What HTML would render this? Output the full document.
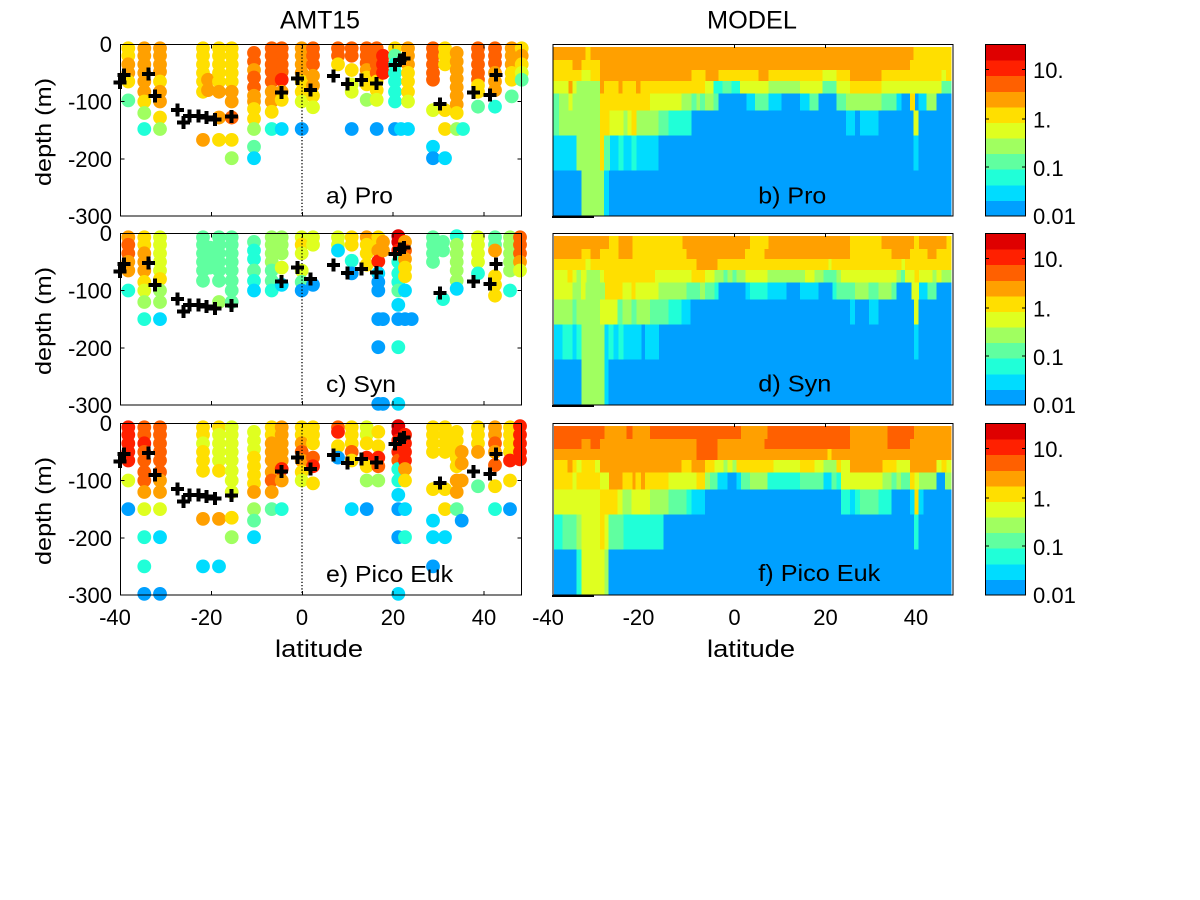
<!DOCTYPE html>
<html><head><meta charset="utf-8">
<style>
html,body{margin:0;padding:0;background:#fff;}
svg{display:block;}
text{font-family:"Liberation Sans",Arial,sans-serif;fill:#000;}
</style></head>
<body>
<svg id="s" width="1200" height="900" viewBox="0 0 1200 900" xmlns="http://www.w3.org/2000/svg">
<rect width="1200" height="900" fill="#fff"/>
<g id="model" shape-rendering="crispEdges"></g>
<g id="cbar" shape-rendering="crispEdges"></g>
<g id="dots"></g>
<g id="dotline"></g>
<g id="crosses" shape-rendering="crispEdges"></g>
<g id="axes" fill="none" stroke="#000" stroke-width="1" shape-rendering="crispEdges"></g>

<!-- Titles -->
<text x="280" y="28.3" font-size="25" textLength="80" lengthAdjust="spacingAndGlyphs">AMT15</text>
<text x="707" y="28.3" font-size="25" textLength="90" lengthAdjust="spacingAndGlyphs">MODEL</text>

<!-- y labels -->
<text transform="translate(51,132) rotate(-90)" font-size="22" text-anchor="middle" textLength="108" lengthAdjust="spacingAndGlyphs">depth (m)</text>
<text transform="translate(51,321) rotate(-90)" font-size="22" text-anchor="middle" textLength="108" lengthAdjust="spacingAndGlyphs">depth (m)</text>
<text transform="translate(51,511) rotate(-90)" font-size="22" text-anchor="middle" textLength="108" lengthAdjust="spacingAndGlyphs">depth (m)</text>

<!-- y tick labels -->
<g font-size="22" text-anchor="end">
<text x="112" y="52">0</text><text x="112" y="109.5">-100</text><text x="112" y="166.8">-200</text><text x="112" y="224">-300</text>
<text x="112" y="241">0</text><text x="112" y="298.5">-100</text><text x="112" y="355.8">-200</text><text x="112" y="413">-300</text>
<text x="112" y="431">0</text><text x="112" y="488.5">-100</text><text x="112" y="545.8">-200</text><text x="112" y="603">-300</text>
</g>

<!-- x tick labels -->
<g font-size="22" text-anchor="middle">
<text x="115" y="625">-40</text><text x="206.5" y="625">-20</text><text x="302" y="625">0</text><text x="393" y="625">20</text><text x="484" y="625">40</text>
<text x="548" y="625">-40</text><text x="638.5" y="625">-20</text><text x="734.5" y="625">0</text><text x="825.5" y="625">20</text><text x="916" y="625">40</text>
</g>
<text x="275" y="657" font-size="24" textLength="88" lengthAdjust="spacingAndGlyphs">latitude</text>
<text x="707" y="657" font-size="24" textLength="88" lengthAdjust="spacingAndGlyphs">latitude</text>

<!-- panel labels -->
<g font-size="23">
<text x="326" y="203.3" textLength="67" lengthAdjust="spacingAndGlyphs">a) Pro</text>
<text x="326" y="392" textLength="70" lengthAdjust="spacingAndGlyphs">c) Syn</text>
<text x="326" y="582" textLength="127" lengthAdjust="spacingAndGlyphs">e) Pico Euk</text>
<text x="758.3" y="203.3" textLength="68" lengthAdjust="spacingAndGlyphs">b) Pro</text>
<text x="758.3" y="391.7" textLength="73" lengthAdjust="spacingAndGlyphs">d) Syn</text>
<text x="758.3" y="581" textLength="122" lengthAdjust="spacingAndGlyphs">f) Pico Euk</text>
</g>

<!-- colorbar labels -->
<g font-size="22">
<text x="1033" y="78">10.</text><text x="1033" y="127.5">1.</text><text x="1033" y="176">0.1</text><text x="1033" y="224">0.01</text>
<text x="1033" y="267">10.</text><text x="1033" y="316.5">1.</text><text x="1033" y="365">0.1</text><text x="1033" y="413">0.01</text>
<text x="1033" y="457">10.</text><text x="1033" y="506.5">1.</text><text x="1033" y="555">0.1</text><text x="1033" y="603">0.01</text>
</g>
</svg>
<script>
(function(){
var P=['#00A0FF','#00DCFF','#20FFD8','#60FFA0','#A0FF60','#DFFF20','#FFDF00','#FFA000','#FF6000','#FF2000','#DF0000'];
var NS='http://www.w3.org/2000/svg';
function el(p,t,a){var e=document.createElementNS(NS,t);for(var k in a)e.setAttribute(k,a[k]);p.appendChild(e);return e;}
var gM=document.getElementById('model'),gC=document.getElementById('cbar'),gD=document.getElementById('dots'),
gL=document.getElementById('dotline'),gX=document.getElementById('crosses'),gA=document.getElementById('axes');

/* ---------- MODEL panels ---------- */
var R=[2.5,15.5,25.7,36.8,49.4,66.3,91.3,126.4,171.7];
var models=[
{top:44.3,off:540,start:40,rows:[
[[137,7],[152,6],[1120,7],[1232,6]],
[[97,6],[125,7],[180,6],[192,7],[1110,7],[1232,6]],
[[125,6],[152,5],[180,6],[192,7],[455,7],[497,6],[535,7],[655,6],[685,7],[848,6],[890,5],[930,6],[1025,7],[1205,6],[1218,5],[1232,6]],
[[85,5],[97,7],[110,5],[180,4],[192,7],[235,6],[248,7],[288,6],[302,7],[495,6],[520,5],[548,2],[575,3],[600,2],[685,5],[780,4],[848,5],[890,3],[930,5],[1025,6],[1205,5],[1232,3]],
[[57,3],[85,4],[97,5],[180,4],[192,6],[330,6],[425,5],[455,4],[470,3],[480,4],[495,3],[520,4],[535,3],[620,0],[645,1],[685,3],[725,1],[780,0],[808,1],[836,3],[890,0],[918,3],[1025,4],[1070,3],[1085,1],[1110,0],[1125,6],[1135,0],[1160,1],[1190,4],[1232,0]],
[[57,3],[180,4],[208,6],[250,5],[262,4],[275,5],[290,6],[355,4],[385,3],[455,2],[918,0],[945,1],[960,0],[1015,1],[1120,0],[1135,5],[1232,0]],
[[110,1],[180,4],[192,6],[210,3],[235,1],[250,2],[275,1],[290,2],[355,1],[1120,0],[1135,1],[1232,0]],
[[125,0],[192,4],[207,1],[1232,0]]
]},
{top:233.3,off:545,start:27,rows:[
[[192,7],[220,6],[262,7],[412,6],[615,7],[670,6],[915,7],[1010,6],[1107,7],[1122,6],[1205,7],[1217,6]],
[[110,7],[137,6],[165,7],[220,6],[262,7],[425,6],[600,7],[658,6],[915,7],[1040,6],[1095,7],[1148,6],[1175,7],[1217,6]],
[[122,6],[137,5],[455,6],[518,7],[850,6],[860,5],[1070,6],[1080,5],[1217,6]],
[[68,5],[82,6],[95,5],[108,4],[125,5],[165,4],[177,5],[330,6],[440,5],[480,6],[508,5],[535,4],[548,3],[562,4],[575,3],[602,4],[668,5],[780,4],[808,5],[835,4],[875,3],[888,4],[1055,5],[1068,4],[1080,3],[1108,5],[1122,6],[1162,5],[1175,4],[1190,5],[1217,4]],
[[82,5],[108,4],[122,5],[180,4],[232,6],[260,5],[272,6],[340,5],[425,4],[465,3],[480,4],[508,3],[520,2],[602,0],[615,1],[668,2],[725,1],[765,0],[820,1],[862,0],[875,2],[930,3],[970,4],[1000,3],[1040,4],[1055,3],[1100,0],[1122,5],[1148,1],[1175,3],[1217,0]],
[[82,4],[95,3],[165,4],[218,5],[232,3],[260,4],[275,3],[315,4],[370,3],[410,2],[437,1],[915,0],[930,1],[972,0],[1000,1],[1107,0],[1120,5],[1217,0]],
[[52,1],[82,2],[95,1],[110,2],[178,4],[190,1],[205,2],[220,1],[235,2],[290,1],[300,0],[342,1],[1107,0],[1120,1],[1217,0]],
[[110,0],[178,4],[190,1],[1217,0]]
]},
{top:423.3,off:545,start:27,rows:[
[[178,8],[245,7],[262,8],[315,7],[588,8],[668,7],[915,8],[1027,7],[1107,8],[1217,7]],
[[110,8],[137,7],[165,8],[455,7],[518,8],[658,7],[915,8],[1027,7],[1095,8],[1217,7]],
[[455,7],[518,8],[848,7],[860,6],[1217,7]],
[[68,6],[82,7],[95,6],[110,5],[150,6],[165,5],[410,7],[440,6],[480,7],[508,6],[535,5],[548,4],[562,5],[575,4],[685,6],[765,5],[808,6],[835,5],[875,4],[888,6],[915,5],[1012,7],[1055,6],[1095,5],[1175,7],[1190,5],[1205,6],[1217,5]],
[[82,6],[95,5],[165,6],[192,5],[232,7],[262,6],[272,7],[288,6],[300,7],[370,6],[455,5],[480,6],[495,4],[518,3],[548,1],[575,0],[588,1],[615,3],[668,4],[765,2],[835,3],[860,1],[875,3],[888,2],[1012,5],[1040,4],[1055,3],[1068,4],[1095,3],[1108,6],[1122,5],[1175,4],[1200,0],[1217,4]],
[[165,5],[218,6],[232,5],[260,4],[315,5],[370,4],[425,3],[440,2],[480,1],[888,0],[915,2],[930,1],[945,2],[1000,3],[1040,2],[1095,0],[1108,1],[1120,6],[1135,1],[1217,0]],
[[52,2],[95,3],[110,4],[165,5],[178,6],[190,5],[235,3],[355,2],[1107,0],[1120,2],[1217,0]],
[[95,0],[110,2],[178,5],[190,4],[1217,0]]
]}
];
models.forEach(function(m){
  m.rows.forEach(function(row,i){
    var y0=m.top+R[i],y1=m.top+R[i+1];
    var x=m.off+m.start/3;
    row.forEach(function(s){
      var x1=m.off+s[0]/3;
      if(x1>x) el(gM,'rect',{x:x.toFixed(2),y:y0.toFixed(2),width:(x1-x+0.6).toFixed(2),height:(y1-y0+0.6).toFixed(2),fill:P[s[1]]});
      x=x1;
    });
  });
});

/* ---------- colorbars ---------- */
[44.5,233.5,423.5].forEach(function(t){
  var h=171.5/11;
  for(var i=0;i<11;i++){
    el(gC,'rect',{x:985.5,y:(t+171.5-(i+1)*h).toFixed(2),width:40,height:(h+0.5).toFixed(2),fill:P[i]});
  }
  el(gA,'rect',{x:985.5,y:t,width:40,height:171.5});
  [25,74.3,122.5].forEach(function(dy){
    el(gA,'line',{x1:985.5,y1:t+dy,x2:989,y2:t+dy});
    el(gA,'line',{x1:1022,y1:t+dy,x2:1025.5,y2:t+dy});
  });
});

/* ---------- scatter panels ---------- */
var S=0.5723;
var panels=[
{top:44.3,cols:[
[128.3,[[7,6],[20,6],[35,7],[50,7],[65,6],[98,3]]],
[144.3,[[7,7],[20,7],[35,7],[50,7],[65,7],[83,7],[100,6],[120,4],[148,2]]],
[160,[[7,7],[20,7],[35,7],[48,7],[65,6],[83,7],[100,7],[128,6],[148,4]]],
[203,[[7,6],[20,6],[35,6],[50,6],[65,6],[83,6],[167,7]]],
[208,[[62,7],[80,7]]],
[219,[[7,6],[20,6],[35,6],[50,6],[65,6],[83,7],[128,7],[167,6]]],
[231.7,[[7,6],[20,6],[35,6],[50,6],[65,6],[83,7],[100,7],[128,8],[167,6],[199,4]]],
[254,[[15,8],[30,8],[45,7],[58,8],[75,8],[90,7],[100,7],[113,6],[130,6],[148,4],[179,3],[199,1]]],
[271.7,[[7,8],[20,8],[35,8],[48,8],[65,8],[83,7],[100,7],[118,6],[148,2]]],
[281.7,[[7,8],[20,8],[35,8],[48,8],[62,9],[83,7],[97,6],[148,1]]],
[301.7,[[7,7],[20,7],[35,7],[50,7],[65,6],[83,6],[100,5],[148,0]]],
[313,[[7,8],[20,8],[35,8],[55,7],[72,7],[90,6],[110,5]]],
[338,[[7,8],[20,8],[35,6]]],
[351.7,[[7,8],[20,8],[45,6],[70,5],[83,5],[148,0]]],
[366.7,[[7,8],[20,8],[33,8],[45,7],[58,6],[70,6],[97,4]]],
[376.7,[[7,8],[20,8],[35,8],[50,8],[65,6],[80,6],[97,5],[148,0]]],
[383,[[20,9],[35,9],[50,9]]],
[395,[[7,6],[20,3],[35,2],[50,2],[65,2],[83,2],[100,2],[148,0]]],
[401,[[148,1]]],
[408,[[7,7],[20,7],[35,7],[50,6],[65,6],[83,6],[100,5],[148,1]]],
[433,[[7,8],[20,8],[35,8],[50,8],[62,8],[115,5],[179,1],[199,0]]],
[445,[[7,6],[20,6],[35,6],[115,6],[148,6],[199,1]]],
[456.7,[[15,7],[30,7],[45,7],[60,7],[75,7],[90,7],[105,7],[120,6],[148,4]]],
[463,[[148,2]]],
[478,[[7,8],[20,8],[35,8],[50,8],[62,8],[72,6],[83,6],[109,3]]],
[495,[[7,8],[20,8],[33,8],[50,7],[65,7],[80,7],[109,2]]],
[511.7,[[7,7],[20,7],[35,7],[50,6],[62,6],[91,3]]],
[521.7,[[7,6],[20,7],[35,6],[50,5],[62,3]]]
]},
{top:233.3,cols:[
[128.3,[[7,7],[20,8],[35,8],[50,7],[65,7],[100,2]]],
[144.3,[[7,6],[20,6],[35,7],[50,7],[65,7],[85,6],[100,5],[120,4],[150,2]]],
[160,[[7,5],[20,5],[35,5],[50,5],[65,5],[80,6],[100,4],[120,4],[150,1]]],
[203,[[7,3],[20,3],[35,3],[50,3],[65,3],[83,3]]],
[210,[[25,3],[45,3],[60,3]]],
[219,[[7,3],[20,3],[35,3],[50,3],[65,3],[83,3],[120,4]]],
[231.7,[[7,3],[20,3],[35,3],[50,3],[65,3],[83,3],[100,3],[120,3]]],
[254,[[15,3],[30,2],[45,2],[65,3],[83,2],[100,1]]],
[271.7,[[7,4],[20,4],[35,4],[50,4],[65,3],[83,3],[100,2]]],
[281.7,[[7,4],[20,4],[35,4],[60,5],[90,1]]],
[301.7,[[7,5],[20,6],[35,5],[65,5],[85,3],[100,0]]],
[313,[[7,5],[20,5],[90,0]]],
[338,[[7,5],[20,5],[30,1]]],
[351.7,[[7,6],[20,6],[48,2],[70,0]]],
[366.7,[[7,7],[20,6],[35,6],[55,6]]],
[378.3,[[7,6],[20,6],[30,7],[49,9],[70,1],[85,0],[100,0],[150,0],[199,0],[298,0]]],
[383,[[15,7],[30,7],[150,0],[298,0]]],
[398.3,[[5,10],[15,10],[30,9],[50,2],[70,2],[85,2],[100,3],[125,1],[150,0],[199,2],[298,1]]],
[405,[[15,7],[30,8],[45,7],[60,6],[75,6],[100,1],[150,0]]],
[411.7,[[150,0]]],
[433,[[7,3],[20,3],[35,3],[50,3]]],
[443,[[15,3],[30,3],[115,2]]],
[456.7,[[5,2],[20,4],[35,4],[50,4],[65,4],[83,4],[97,1]]],
[478,[[7,5],[20,5],[35,5],[50,5],[70,2]]],
[495,[[7,3],[20,3],[30,7],[75,6],[90,6],[109,6]]],
[510,[[7,4],[20,4],[35,4],[50,4],[65,4],[100,2]]],
[520,[[7,8],[20,8],[35,8],[50,7],[65,5]]]
]},
{top:423.3,cols:[
[128.3,[[7,9],[20,9],[35,9],[50,9],[65,9],[100,5],[150,0]]],
[144.3,[[7,8],[20,8],[35,9],[50,8],[65,8],[85,8],[100,8],[120,7],[150,5],[199,2],[250,2],[298,0]]],
[160,[[7,8],[20,8],[35,8],[50,8],[65,8],[85,8],[100,7],[120,7],[150,5],[199,1],[298,0]]],
[203,[[7,6],[20,6],[35,5],[50,6],[65,6],[83,6],[167,7],[250,1]]],
[219,[[7,6],[20,5],[35,5],[50,5],[65,5],[83,6],[167,7],[250,1]]],
[231.7,[[7,5],[20,5],[35,5],[50,5],[65,5],[83,5],[100,5],[120,5],[165,6],[199,4]]],
[254,[[15,5],[30,5],[45,5],[60,6],[75,6],[90,6],[105,6],[120,7],[150,4],[170,3],[199,1]]],
[271.7,[[7,6],[20,6],[35,7],[50,7],[65,7],[85,7],[100,8],[120,7],[150,3]]],
[281.7,[[7,7],[20,7],[35,7],[50,7],[65,7],[80,9],[100,7],[150,2]]],
[301.7,[[7,6],[20,6],[35,7],[50,8],[65,7],[85,6],[100,5]]],
[313,[[7,6],[20,6],[35,6],[60,8],[75,9],[105,6]]],
[338,[[7,8],[15,9],[40,6],[60,0]]],
[351.7,[[7,6],[20,6],[35,6],[50,8],[65,6],[150,1]]],
[366.7,[[7,5],[20,5],[35,6],[60,9],[75,6],[100,4],[150,0]]],
[378.3,[[15,6],[40,6],[60,9],[75,8],[100,4]]],
[398.3,[[5,10],[15,10],[30,9],[50,9],[65,8],[80,2],[100,2],[125,1],[150,0],[199,0],[298,1]]],
[405,[[20,9],[35,9],[50,9],[65,9],[80,7],[100,6],[150,1],[199,2]]],
[433,[[7,6],[20,6],[35,6],[50,6],[115,6],[170,1],[199,1],[250,0]]],
[445,[[7,6],[20,6],[35,6],[50,6],[115,6],[150,6],[199,1]]],
[456.7,[[15,6],[30,6],[45,6],[60,6],[75,6],[100,7],[120,7],[150,3]]],
[461.7,[[50,7],[70,7],[100,7],[170,0]]],
[478,[[7,6],[20,6],[35,6],[50,7],[110,3]]],
[495,[[7,7],[20,7],[35,8],[50,7],[73,8],[110,6],[150,2]]],
[510,[[7,6],[20,6],[35,6],[50,6],[65,9],[100,6],[150,0]]],
[520,[[5,9],[20,9],[35,9],[50,9],[63,9]]]
]}
];
var crosses=[[120,38.3],[124,30.7],[148.3,29.7],[155,51.7],[177.3,65.7],[183.3,78.3],[189.3,71.7],[198.3,71.7],[206.7,73],[215,75],[231.7,72.3],[281.7,48.3],[297.3,34],[310.7,45.7],[333.3,31.7],[347.3,39.7],[361.7,35.7],[376.7,39],[395,20.7],[400,15.7],[404,14],[440,59.7],[473.3,48.3],[490,50.7],[496,30.7]];

panels.forEach(function(p){
  p.cols.forEach(function(c){
    c[1].forEach(function(d){
      el(gD,'circle',{cx:c[0],cy:(p.top+d[0]*S).toFixed(2),r:6.9,fill:P[d[1]]});
    });
  });
  el(gL,'line',{x1:302,y1:p.top,x2:302,y2:p.top+171.7,stroke:'#000','stroke-width':1.3,'stroke-dasharray':'1.3,2'});
  crosses.forEach(function(c){
    var y=p.top+c[1];
    el(gX,'rect',{x:c[0]-6.5,y:y-2,width:13,height:4,fill:'#000'});
    el(gX,'rect',{x:c[0]-2,y:y-6.5,width:4,height:13,fill:'#000'});
  });
  // axes box
  var t=p.top,b=p.top+171.7;
  el(gA,'rect',{x:120.5,y:t,width:401,height:171.7});
  [57.23,114.47].forEach(function(dy){
    el(gA,'line',{x1:120.5,y1:t+dy,x2:124.5,y2:t+dy});
    el(gA,'line',{x1:517.5,y1:t+dy,x2:521.5,y2:t+dy});
  });
  [211.5,302.3,393.1,483.9].forEach(function(x){
    el(gA,'line',{x1:x,y1:b,x2:x,y2:b-4});
    el(gA,'line',{x1:x,y1:t,x2:x,y2:t+4});
  });
});

/* model boxes */
[44.3,233.3,423.3].forEach(function(t){
  el(gA,'rect',{x:553,y:t,width:400,height:171.7});
  [734.5,825.3].forEach(function(x){ el(gA,'line',{x1:x,y1:t,x2:x,y2:t+3.5}); });
  el(gC,'rect',{x:552,y:t+171.7,width:42,height:1.8,fill:'#000'});
});
})();
</script>
</body></html>
